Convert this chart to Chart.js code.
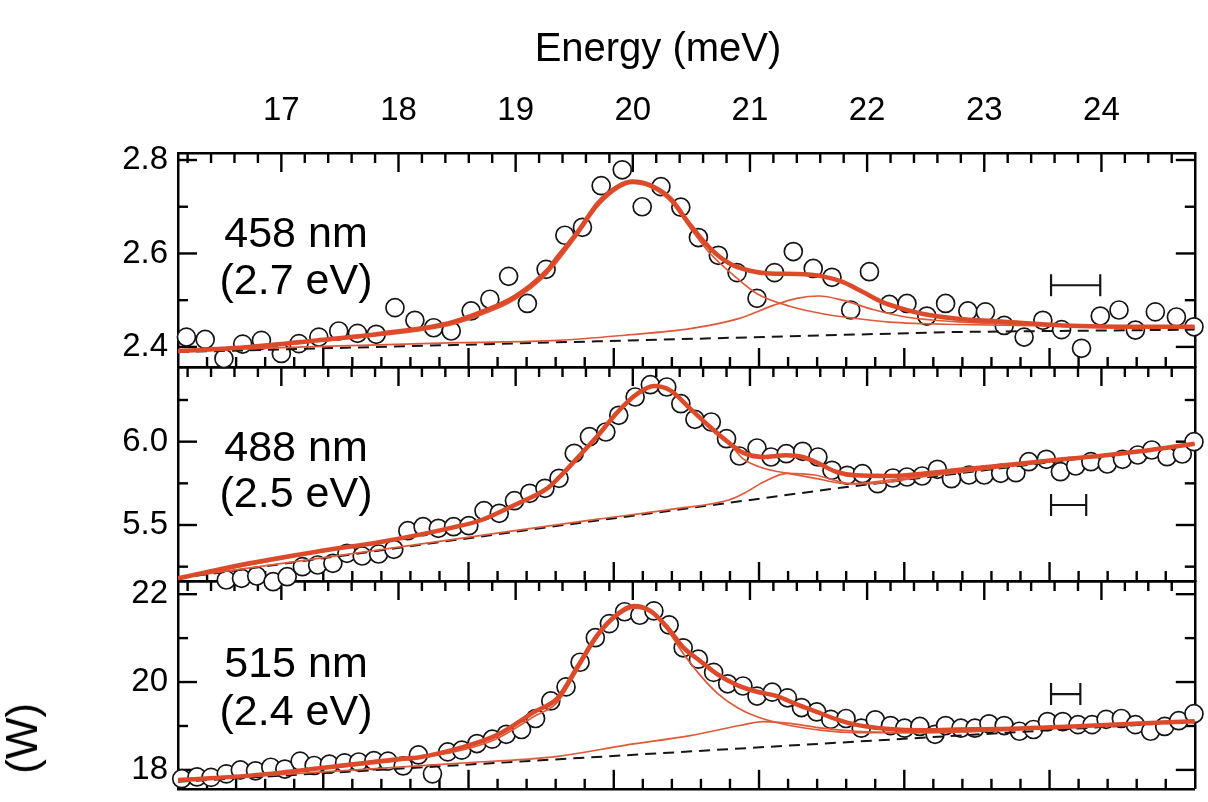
<!DOCTYPE html>
<html>
<head>
<meta charset="utf-8">
<title>Raman spectra, three excitation lines</title>
<script src="https://cdn.jsdelivr.net/npm/chart.js@4.4.3/dist/chart.umd.js"></script>
<style>
  html, body { margin: 0; padding: 0; background: #fff; }
  #wrap { position: relative; width: 1208px; height: 802px; overflow: hidden;
          font-family: 'Liberation Sans', Arial, Helvetica, sans-serif; color: #000; }
  #wrap canvas { position: absolute; left: 0; top: 0; }
  .lbl { position: absolute; font-size: 43px; line-height: 1; white-space: nowrap;
         transform: translate(-50%, -50%); }
  #title { left: 658px; top: 47px; font-size: 40px; }
  #ylab { position: absolute; left: 22px; top: 703px; font-size: 44px; line-height: 1;
          white-space: nowrap; transform-origin: 0 0; transform: rotate(-90deg) translate(-100%, -50%); }
</style>
</head>
<body>
<div id="wrap">
  <canvas id="c3" width="1208" height="802"></canvas>
  <canvas id="c2" width="1208" height="802"></canvas>
  <canvas id="c1" width="1208" height="802"></canvas>
  <div class="lbl" id="title">Energy (meV)</div>
  <div class="lbl" style="left:296px; top:232px">458 nm</div>
  <div class="lbl" style="left:296px; top:279px">(2.7 eV)</div>
  <div class="lbl" style="left:296px; top:446px">488 nm</div>
  <div class="lbl" style="left:296px; top:492px">(2.5 eV)</div>
  <div class="lbl" style="left:296px; top:662px">515 nm</div>
  <div class="lbl" style="left:296px; top:710px">(2.4 eV)</div>
  <div id="ylab">(W)</div>
</div>

<script>
// x range: 130-200 cm-1 expressed in meV
const E_MIN = 16.118, E_MAX = 24.797;

// ---- 458 nm ----
const p1E = [16.19,16.35,16.51,16.67,16.83,17.00,17.15,17.32,17.49,17.65,17.81,17.97,18.14,18.30,18.45,18.62,18.78,18.94,19.10,19.26,19.42,19.57,19.73,19.91,20.08,20.24,20.41,20.56,20.73,20.89,21.06,21.21,21.37,21.54,21.70,21.86,22.02,22.19,22.34,22.51,22.67,22.86,23.01,23.17,23.34,23.50,23.66,23.83,23.99,24.15,24.29,24.46,24.64,24.79];
const p1I = [2.421,2.416,2.375,2.406,2.414,2.386,2.407,2.421,2.434,2.429,2.427,2.484,2.457,2.441,2.434,2.477,2.502,2.551,2.493,2.566,2.639,2.656,2.745,2.779,2.700,2.743,2.699,2.634,2.596,2.559,2.504,2.559,2.604,2.568,2.549,2.479,2.561,2.491,2.493,2.466,2.493,2.477,2.475,2.446,2.421,2.457,2.437,2.397,2.466,2.479,2.436,2.475,2.464,2.443];
const p1FitE = [16.118,16.73,17.30,17.86,18.43,18.71,18.99,19.27,19.36,19.53,19.70,19.87,20.00,20.15,20.32,20.49,20.66,20.83,21.00,21.17,21.40,21.62,21.79,21.96,22.13,22.30,22.47,22.75,23.17,23.67,24.33,24.797];
const p1Fit  = [2.391,2.400,2.414,2.429,2.451,2.475,2.507,2.564,2.593,2.646,2.707,2.743,2.754,2.746,2.718,2.661,2.611,2.578,2.563,2.557,2.556,2.551,2.539,2.518,2.496,2.482,2.471,2.461,2.454,2.446,2.443,2.443];
const p1MainE = [16.118,16.73,17.30,17.86,18.43,18.71,18.99,19.27,19.53,19.70,19.87,20.00,20.15,20.32,20.49,20.66,20.89,21.06,21.34,21.62,21.90,22.19,22.47,22.75,23.67,24.797];
const p1Main  = [2.390,2.398,2.411,2.425,2.446,2.469,2.501,2.557,2.640,2.700,2.738,2.750,2.742,2.712,2.654,2.600,2.547,2.514,2.487,2.471,2.461,2.453,2.450,2.448,2.445,2.442];
const p1SideE = [16.118,17.50,18.50,19.36,19.93,20.49,20.91,21.20,21.40,21.59,21.79,22.05,22.33,22.75,23.67,24.797];
const p1Side  = [2.392,2.402,2.409,2.414,2.425,2.439,2.461,2.489,2.504,2.509,2.500,2.480,2.464,2.454,2.446,2.442];
const p1BaseE = [16.118,19.70,22.75,24.797];
const p1Base  = [2.389,2.412,2.432,2.437];
const p1ResE = [23.57,23.99], p1Res = 2.532;

// ---- 488 nm ----
const p2E = [16.53,16.66,16.79,16.93,17.05,17.18,17.31,17.44,17.56,17.69,17.83,17.96,18.08,18.21,18.34,18.47,18.60,18.73,18.86,18.99,19.12,19.25,19.37,19.50,19.63,19.77,19.88,20.02,20.15,20.29,20.41,20.53,20.67,20.80,20.91,21.06,21.18,21.31,21.45,21.58,21.70,21.83,21.96,22.09,22.22,22.34,22.47,22.60,22.72,22.87,23.00,23.14,23.27,23.38,23.53,23.65,23.78,23.91,24.05,24.18,24.31,24.43,24.56,24.69,24.79];
const p2I = [5.170,5.180,5.194,5.160,5.190,5.250,5.260,5.270,5.330,5.314,5.326,5.354,5.466,5.490,5.480,5.490,5.496,5.586,5.570,5.646,5.690,5.720,5.780,5.930,6.030,6.058,6.158,6.268,6.342,6.328,6.228,6.134,6.118,6.018,5.914,5.962,5.908,5.928,5.942,5.908,5.828,5.798,5.808,5.748,5.782,5.788,5.794,5.834,5.778,5.800,5.800,5.810,5.814,5.880,5.894,5.820,5.854,5.880,5.866,5.894,5.920,5.950,5.910,5.926,6.000];
const p2FitE = [16.118,16.73,17.30,17.86,18.43,18.71,18.99,19.27,19.36,19.53,19.70,19.87,20.04,20.18,20.32,20.49,20.66,20.83,20.94,21.11,21.31,21.45,21.59,21.74,21.90,22.19,22.47,22.75,23.67,24.00,24.33,24.797];
const p2Fit  = [5.180,5.270,5.340,5.400,5.480,5.530,5.620,5.720,5.778,5.905,6.035,6.178,6.288,6.334,6.308,6.198,6.088,5.988,5.934,5.908,5.918,5.908,5.868,5.818,5.798,5.794,5.808,5.828,5.895,5.915,5.942,5.988];
const p2MainE = [16.118,17.30,18.43,18.99,19.36,19.70,20.04,20.18,20.32,20.49,20.66,20.83,20.94,21.11,21.34,21.57,21.85,22.19,22.75,23.67,24.797];
const p2Main  = [5.180,5.335,5.475,5.612,5.770,6.030,6.285,6.332,6.305,6.195,6.085,5.985,5.898,5.842,5.808,5.778,5.746,5.770,5.815,5.890,5.986];
const p2SideE = [16.118,17.50,18.71,19.70,20.36,20.82,20.95,21.12,21.32,21.55,21.85,22.01,22.50,23.67,24.797];
const p2Side  = [5.182,5.318,5.438,5.535,5.597,5.650,5.690,5.760,5.810,5.800,5.750,5.748,5.792,5.890,5.985];
const p2BaseE = [16.118,19.36,21.79,24.797];
const p2Base  = [5.180,5.495,5.725,5.982];
const p2ResE = [23.57,23.87], p2Res = 5.620;

// ---- 515 nm ----
const p3E = [16.15,16.28,16.40,16.53,16.65,16.78,16.91,17.03,17.16,17.28,17.41,17.54,17.66,17.79,17.91,18.04,18.17,18.29,18.42,18.54,18.67,18.80,18.92,19.05,19.17,19.30,19.43,19.55,19.68,19.80,19.93,20.06,20.18,20.31,20.43,20.56,20.69,20.81,20.94,21.06,21.19,21.32,21.44,21.57,21.69,21.82,21.95,22.07,22.20,22.32,22.45,22.58,22.67,22.80,22.92,23.04,23.17,23.30,23.42,23.54,23.67,23.80,23.92,24.04,24.17,24.29,24.42,24.54,24.66,24.79];
const p3I = [17.80,17.84,17.83,17.91,18.00,17.98,18.06,18.02,18.20,18.10,18.13,18.16,18.18,18.21,18.20,18.09,18.34,17.91,18.41,18.45,18.60,18.70,18.81,18.92,19.17,19.57,19.89,20.45,21.01,21.33,21.60,21.52,21.62,21.30,20.78,20.52,20.22,19.96,19.91,19.68,19.77,19.64,19.42,19.32,19.15,19.17,18.95,19.14,19.01,18.95,18.99,18.81,19.01,18.95,18.95,19.05,19.01,18.88,18.92,19.10,19.10,19.03,19.03,19.15,19.17,19.03,18.88,18.99,19.12,19.28];
const p3FitE = [16.118,16.73,17.30,17.97,18.18,18.51,18.83,19.16,19.36,19.53,19.70,19.87,20.01,20.15,20.29,20.43,20.58,20.72,20.89,21.06,21.23,21.40,21.57,21.74,21.90,22.19,22.47,22.75,23.09,23.94,24.797];
const p3Fit  = [17.77,17.87,18.03,18.24,18.29,18.49,18.78,19.32,19.64,20.36,21.08,21.55,21.73,21.62,21.26,20.79,20.47,20.18,19.93,19.78,19.68,19.49,19.32,19.15,19.03,18.93,18.90,18.92,18.93,19.01,19.11];
const p3MainE = [16.118,16.73,17.30,17.97,18.51,18.83,19.16,19.36,19.53,19.70,19.87,20.01,20.15,20.29,20.43,20.58,20.72,20.89,21.06,21.34,21.62,21.90,22.19,22.75,23.67,24.797];
const p3Main  = [17.76,17.86,18.01,18.20,18.43,18.70,19.22,19.55,20.28,21.02,21.50,21.68,21.58,21.20,20.65,20.14,19.75,19.42,19.21,19.01,18.90,18.85,18.85,18.86,18.97,19.10];
const p3SideE = [16.118,17.50,18.50,19.36,19.93,20.49,20.91,21.11,21.34,21.62,21.90,22.47,23.50,24.797];
const p3Side  = [17.75,17.98,18.15,18.31,18.56,18.78,19.01,19.10,19.06,18.95,18.88,18.85,18.95,19.10];
const p3BaseE = [16.118,24.797];
const p3Base  = [17.73,19.10];
const p3ResE = [23.57,23.82], p3Res = 19.726;

const FONT = "'Liberation Sans', Arial, Helvetica, sans-serif";
const FIT = '#dc4a2a', PART = '#e0593a', INK = '#151515';

const xy = (xs, ys) => xs.map((x, i) => ({ x: x, y: ys[i] }));
const flat = (xs, y) => xs.map(x => ({ x: x, y: y }));

// tick marks pointing into the plot, on all four sides
const inTicks = {
  id: 'inTicks',
  beforeDatasetsDraw(chart, args, opts) {
    const ctx = chart.ctx, a = chart.chartArea;
    ctx.save();
    ctx.strokeStyle = '#000';
    ctx.lineWidth = 2.4;
    for (const id in opts.axes) {
      const s = chart.scales[id], t = opts.axes[id];
      const n = Math.round((t.to - t.from) / t.minor);
      for (let i = 0; i <= n; i++) {
        const v = t.from + i * t.minor;
        const r = v / t.major;
        const len = Math.abs(r - Math.round(r)) < 1e-6 ? 19 : 10;
        const p = s.getPixelForValue(v);
        ctx.beginPath();
        if (s.isHorizontal()) {
          const y0 = s.position === 'top' ? a.top : a.bottom;
          const d = s.position === 'top' ? 1 : -1;
          ctx.moveTo(p, y0); ctx.lineTo(p, y0 + d * len);
        } else {
          const x0 = s.position === 'left' ? a.left : a.right;
          const d = s.position === 'left' ? 1 : -1;
          ctx.moveTo(x0, p); ctx.lineTo(x0 + d * len, p);
        }
        ctx.stroke();
      }
    }
    ctx.restore();
  }
};

function panel(id, p) {
  const frame = { display: true, color: '#000', width: 2.5 };
  const noGrid = { display: false, drawTicks: false };
  const curve = (xs, ys, color, w, order) => ({
    data: xy(xs, ys), borderColor: color, borderWidth: w, pointRadius: 0,
    cubicInterpolationMode: 'monotone', order: order
  });
  return new Chart(document.getElementById(id), {
    type: 'line',
    data: {
      datasets: [
        { data: xy(p.e, p.i), showLine: false, pointRadius: 9, pointBorderWidth: 1.7,
          pointBorderColor: INK, pointBackgroundColor: '#fff', clip: 14, order: 6 },
        { data: xy(p.baseE, p.base), borderColor: INK, borderWidth: 2, borderDash: [11, 7],
          pointRadius: 0, order: 5 },
        curve(p.mainE, p.main, PART, 1.7, 4),
        curve(p.sideE, p.side, PART, 1.7, 3),
        curve(p.fitE, p.fit, FIT, 4.5, 2),
        { data: flat(p.resE, p.res), borderColor: INK, borderWidth: 2.2, pointStyle: 'line',
          pointRotation: 90, pointRadius: 11, pointBorderWidth: 2.2, pointBorderColor: INK, order: 1 }
      ]
    },
    options: {
      responsive: false,
      animation: false,
      events: [],
      layout: { padding: { top: p.padTop, bottom: p.padBottom, left: 0, right: 0 } },
      plugins: {
        legend: { display: false },
        tooltip: { enabled: false },
        inTicks: { axes: {
          x:  { from: 16.2, to: 24.6, minor: 0.2, major: 1 },
          xb: { from: 132, to: 198, minor: 2, major: 10 },
          y:  { from: p.tFrom, to: p.tTo, minor: p.minor, major: p.major },
          y2: { from: p.tFrom, to: p.tTo, minor: p.minor, major: p.major }
        } }
      },
      scales: {
        x: {
          type: 'linear', position: 'top', min: E_MIN, max: E_MAX,
          afterFit: s => { s.height = p.topH; s.paddingLeft = 0; s.paddingRight = 0; },
          grid: noGrid, border: frame,
          ticks: { display: p.topLabels, stepSize: 1, includeBounds: false, autoSkip: false,
                   maxRotation: 0, padding: 22, color: '#000', font: { family: FONT, size: 33 } }
        },
        xb: {
          type: 'linear', position: 'bottom', min: 130, max: 200,
          afterFit: s => { s.height = 0; s.paddingLeft = 0; s.paddingRight = 0; },
          grid: noGrid, border: frame, ticks: { display: false }
        },
        y: {
          type: 'linear', position: 'left', min: p.yMin, max: p.yMax,
          afterFit: s => { s.width = 178; s.paddingTop = 0; s.paddingBottom = 0; },
          grid: noGrid, border: frame,
          ticks: { stepSize: p.major, includeBounds: false, padding: 10, color: '#000',
                   font: { family: FONT, size: 33 }, callback: v => v.toFixed(p.dec) }
        },
        y2: {
          type: 'linear', position: 'right', min: p.yMin, max: p.yMax,
          afterFit: s => { s.width = 7; s.paddingTop = 0; s.paddingBottom = 0; },
          grid: noGrid, border: frame, ticks: { display: false }
        }
      }
    },
    plugins: [inTicks]
  });
}

panel('c3', { e: p3E, i: p3I, fitE: p3FitE, fit: p3Fit, mainE: p3MainE, main: p3Main,
  sideE: p3SideE, side: p3Side, baseE: p3BaseE, base: p3Base, resE: p3ResE, res: p3Res,
  yMin: 17.57, yMax: 22.30, major: 2, minor: 1, tFrom: 18, tTo: 22, dec: 0,
  padTop: 581, padBottom: 2, topH: 0, topLabels: false });

panel('c2', { e: p2E, i: p2I, fitE: p2FitE, fit: p2Fit, mainE: p2MainE, main: p2Main,
  sideE: p2SideE, side: p2Side, baseE: p2BaseE, base: p2Base, resE: p2ResE, res: p2Res,
  yMin: 5.164, yMax: 6.448, major: 0.5, minor: 0.25, tFrom: 5.25, tTo: 6.25, dec: 1,
  padTop: 367, padBottom: 221, topH: 0, topLabels: false });

panel('c1', { e: p1E, i: p1I, fitE: p1FitE, fit: p1Fit, mainE: p1MainE, main: p1Main,
  sideE: p1SideE, side: p1Side, baseE: p1BaseE, base: p1Base, resE: p1ResE, res: p1Res,
  yMin: 2.357, yMax: 2.815, major: 0.2, minor: 0.1, tFrom: 2.4, tTo: 2.8, dec: 1,
  padTop: 0, padBottom: 435, topH: 153, topLabels: true });
</script>
</body>
</html>
